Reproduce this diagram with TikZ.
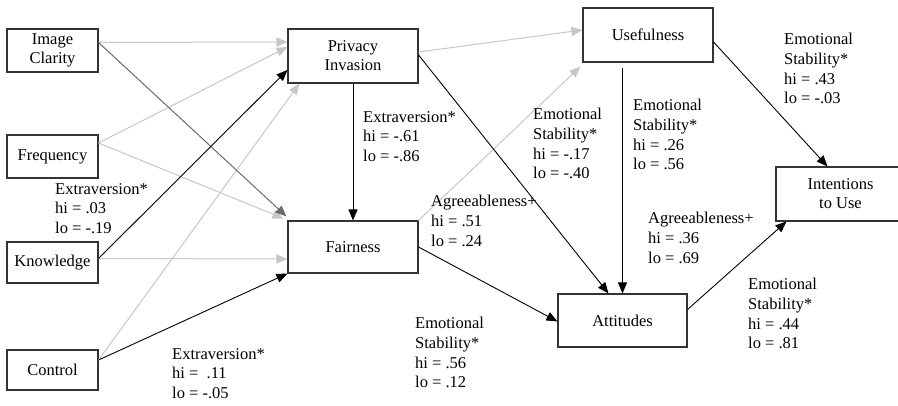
\documentclass[tikz,border=0pt]{standalone}
\usepackage{fontspec}
\setmainfont{Liberation Serif}
\usetikzlibrary{arrows.meta}

\tikzset{
  box/.style={draw=black!80, line width=1.1pt, align=center, inner sep=0pt,
    font=\fontsize{16.5}{19}\selectfont},
  lbl/.style={anchor=north west, align=left, inner sep=0pt,
    font=\fontsize{16.5}{19.7}\selectfont},
  blk/.style={-{Triangle[length=11pt,width=9pt]}, draw=black, line width=0.9pt},
  lgt/.style={-{Triangle[length=11pt,width=9pt]}, draw=black!22, line width=1pt},
  mid/.style={-{Triangle[length=11pt,width=9pt]}, draw=black!58, line width=1pt}
}

\begin{document}
\begin{tikzpicture}[x=1pt,y=-1pt]
      \useasboundingbox (0,0) rectangle (898,406);

      % predictors
      \node[box, minimum width=91pt, minimum height=43pt] (img) at (52.5,50.5) {Image\\Clarity};
      \node[box, minimum width=91pt, minimum height=43pt] (freq) at (52.5,156.5) {Frequency};
      \node[box, minimum width=91pt, minimum height=41pt] (know) at (52.5,262.5) {Knowledge};
      \node[box, minimum width=91pt, minimum height=40pt] (ctrl) at (52.5,370) {Control};

      % mediators and outcomes
      \node[box, minimum width=130pt, minimum height=54pt] (priv) at (353,56) {Privacy\\Invasion};
      \node[box, minimum width=130pt, minimum height=52pt] (fair) at (353,247) {Fairness};
      \node[box, minimum width=130pt, minimum height=54pt] (use) at (648,35) {Usefulness};
      \node[box, minimum width=129pt, minimum height=53pt] (att) at (622.5,320.5) {Attitudes};
      \node[box, minimum width=129pt, minimum height=54pt] (int) at (840.5,194) {Intentions\\to Use};

      % non significant paths
      \draw[lgt] ([yshift=8pt]img.east) -- ([yshift=14pt]priv.west);
      \draw[lgt] ([yshift=13.5pt]freq.east) -- ([yshift=9pt]priv.west);
      \draw[lgt] ([yshift=13.5pt]freq.east) -- ([xshift=-4pt,yshift=2pt]fair.north west);
      \draw[lgt] ([yshift=4pt]know.east) -- ([yshift=-12pt]fair.west);
      \draw[lgt] ([yshift=10pt]ctrl.east) -- ([xshift=12pt]priv.south west);
      \draw[lgt] ([yshift=4pt]priv.east) -- ([yshift=5pt]use.west);
      \draw[lgt] (fair.north east) -- ([xshift=-2pt,yshift=-4pt]use.south west);
      \draw[mid] ([yshift=8pt]img.east) -- ([xshift=-1pt,yshift=4pt]fair.north west);

      % moderated paths
      \draw[blk] ([yshift=4pt]know.east) -- ([yshift=-14pt]priv.west);
      \draw[blk] ([yshift=10pt]ctrl.east) -- (fair.south west);
      \draw[blk] (priv.south) -- (fair.north);
      \draw[blk] ([yshift=1pt]priv.east) -- ([xshift=-14pt]att.north);
      \draw[blk] (fair.east) -- ([yshift=-1pt]att.west);
      \draw[blk] ([yshift=-5pt]use.south -| att.north) -- (att.north);
      \draw[blk] ([yshift=-7pt]use.east) -- ([xshift=-13pt]int.north);
      \draw[blk] ([yshift=11pt]att.east) -- ([xshift=11pt]int.south west);

      % moderator labels
      \node[lbl] (l1) at (55,183) {Extraversion*\\hi = .03\\lo = -.19};
      \node[lbl] (l2) at (363,111) {Extraversion*\\hi = -.61\\lo = -.86};
      \node[lbl] (l3) at (533,108) {Emotional\\Stability*\\hi = -.17\\lo = -.40};
      \node[lbl] (l4) at (431,195) {Agreeableness+\\hi = .51\\lo = .24};
      \node[lbl] (l5) at (415,317) {Emotional\\Stability*\\hi = .56\\lo = .12};
      \node[lbl] (l6) at (172,348) {Extraversion*\\hi = \ .11\\lo = -.05};
      \node[lbl] (l7) at (633,99) {Emotional\\Stability*\\hi = .26\\lo = .56};
      \node[lbl] (l8) at (784,33) {Emotional\\Stability*\\hi = .43\\lo = -.03};
      \node[lbl] (l9) at (648,212) {Agreeableness+\\hi = .36\\lo = .69};
      \node[lbl] (l10) at (748,278) {Emotional\\Stability*\\hi = .44\\lo = .81};
    \end{tikzpicture}
\end{document}
